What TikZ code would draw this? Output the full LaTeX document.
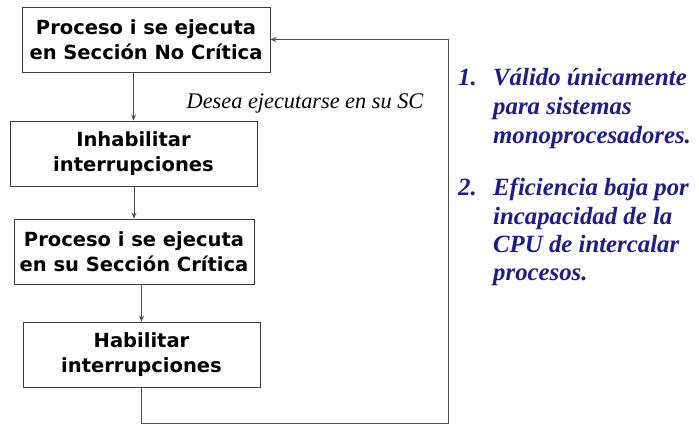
\documentclass[tikz,border=0pt]{standalone}
\usepackage{fontspec}
\setmainfont{Liberation Serif}
\newfontfamily\boxfont{DejaVu Sans}
\usetikzlibrary{arrows.meta,positioning}
\definecolor{navy}{HTML}{1C1C8C}
\definecolor{edge}{HTML}{3C3C3C}
\definecolor{wire}{HTML}{505050}
\tikzset{
  stepbox/.style={draw=edge, line width=0.9pt, fill=white, inner sep=0pt,
    align=center, font=\boxfont\bfseries\fontsize{19.5}{25}\selectfont, text=black},
  arr/.style={draw=wire, line width=0.8pt, -{Stealth[length=6pt,width=5pt]}},
  itemtxt/.style={text=navy, font=\bfseries\itshape\fontsize{24.8}{29}\selectfont, inner sep=0pt, anchor=base west},
}
\begin{document}
\begin{tikzpicture}[x=1pt,y=-1pt]
\useasboundingbox[fill=white] (0,0) rectangle (699,438);
\node[stepbox, minimum width=248pt, minimum height=65pt] (b1) at (146,39.5) {Proceso i se ejecuta\\en Sección No Crítica};
\node[stepbox, minimum width=247pt, minimum height=65pt] (b2) at (133.5,153.5) {Inhabilitar\\interrupciones};
\node[stepbox, minimum width=240pt, minimum height=65pt] (b3) at (134,251.5) {Proceso i se ejecuta\\en su Sección Crítica};
\node[stepbox, minimum width=237pt, minimum height=65pt] (b4) at (141.5,354.5) {Habilitar\\interrupciones};
\coordinate (corner) at (448,423);
\draw[arr] (b1.south -| b2.north) -- (b2.north);
\draw[arr] (b2.south -| b3.north) -- (b3.north);
\draw[arr] (b3.south -| b4.north) -- (b4.north);
\draw[arr] (b4.south) |- (corner) |- (b1.east);
\node[font=\itshape\fontsize{22.3}{24}\selectfont, anchor=base, inner sep=0pt] (lab) at (305,109) {Desea ejecutarse en su SC};
\node[itemtxt] (n1) at (458,86) {1.};
\node[itemtxt] (t1a) at (493,86) {Válido únicamente};
\node[itemtxt] (t1b) at (493,115) {para sistemas};
\node[itemtxt] (t1c) at (493,144) {monoprocesadores.};
\node[itemtxt] (n2) at (458,196) {2.};
\node[itemtxt] (t2a) at (493,196) {Eficiencia baja por};
\node[itemtxt] (t2b) at (493,225) {incapacidad de la};
\node[itemtxt] (t2c) at (493,253) {CPU de intercalar};
\node[itemtxt] (t2d) at (493,281) {procesos.};
\end{tikzpicture}
\end{document}
